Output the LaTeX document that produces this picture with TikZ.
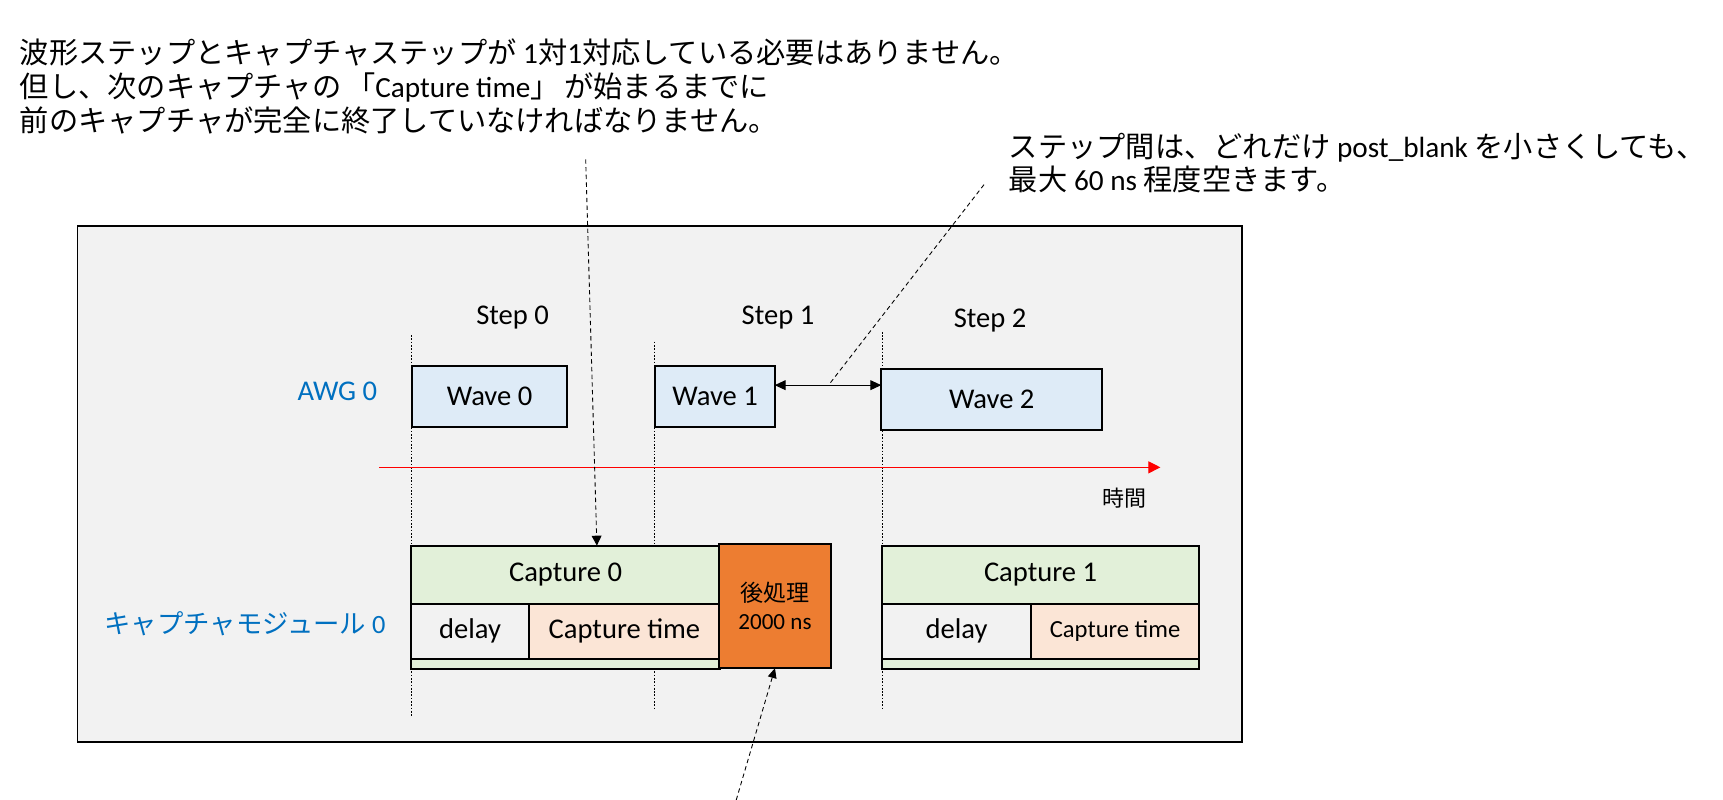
\documentclass[tikz,border=0pt]{standalone}
\usepackage{fontspec}
\setmainfont{Carlito}
\newfontfamily\jpfont{Noto Sans CJK JP}
\usetikzlibrary{arrows.meta}
\definecolor{framebg}{HTML}{F2F2F2}
\definecolor{wavefill}{HTML}{DEEBF7}
\definecolor{capgreen}{HTML}{E2F0D9}
\definecolor{peach}{HTML}{FBE5D6}
\definecolor{ppfill}{HTML}{ED7D31}
\definecolor{labelblue}{HTML}{0070C0}

\begin{document}
\begin{tikzpicture}[x=1pt,y=-1pt,
txt/.style={inner sep=0pt,font=\fontsize{26}{31}\selectfont},
note/.style={inner sep=0pt,anchor=west,align=left,font=\fontsize{26.6}{31}\selectfont},
wavebox/.style={draw,line width=1.8pt,fill=wavefill,outer sep=0pt,minimum height=55.5,anchor=north west,font=\fontsize{26}{31}\selectfont},
capbox/.style={draw,line width=1.8pt,fill=capgreen,outer sep=0pt,anchor=north west},
rowbox/.style={draw,line width=1.8pt,outer sep=0pt,minimum height=50,anchor=north west,font=\fontsize{26}{31}\selectfont},
ppbox/.style={draw,line width=1.8pt,fill=ppfill,outer sep=0pt,anchor=north west,align=center,font=\fontsize{21}{26}\selectfont},
stepline/.style={line width=.8pt,dash pattern=on 1.5pt off 1.5pt},
annot/.style={line width=.8pt,dash pattern=on 4pt off 3pt}]
\useasboundingbox(0,0)rectangle(1568,728);
\fill[white](0,0)rectangle(1568,728);
\draw[line width=1.6pt,fill=framebg](70.5,205.5)rectangle(1130.5,675);
\node[note](topnote)at(18,79){{\jpfont 波形ステップとキャプチャステップが} 1{\jpfont 対}1{\jpfont 対応している必要はありません。}\\{\jpfont 但し、次のキャプチャの\,「}Capture time{\jpfont 」\,が始まるまでに}\\{\jpfont 前のキャプチャが完全に終了していなければなりません。}};
\node[note,font=\fontsize{26.6}{30}\selectfont](rightnote)at(918,148){{\jpfont ステップ間は、どれだけ} post\_blank {\jpfont を小さくしても、}\\{\jpfont 最大} 60 ns {\jpfont 程度空きます。}};
\foreach\x/\t/\b in{374.5/305/652,595.5/311/645,803/302/646}{\draw[stepline](\x,\t)--(\x,\b);}
\foreach\i/\x/\y in{0/466.5/289,1/708/289,2/901/292}{\node[txt](s\i)at(\x,\y){Step \i};}
\foreach\i/\x/\y/\w in{0/375/333/141,1/596.5/333/108.5,2/802/336/201}{\node[wavebox,minimum width=\w](w\i)at(\x,\y){Wave \i};}
\node[txt,text=labelblue](awg)at(307,356){AWG 0};
\node[txt,text=labelblue,font=\fontsize{24}{28}\selectfont](capmod)at(223,568){{\jpfont キャプチャモジュール} 0};
\draw[red,line width=1pt,-{Triangle[length=11pt,width=11pt]}](345,425.3)--(1056,425.3);
\node[txt,font=\jpfont\fontsize{20}{24}\selectfont](tlabel)at(1023,453){時間};
\node[capbox,minimum width=281,minimum height=112](c0)at(374,496.5){};
\node[txt,minimum width=281,minimum height=53,anchor=north west](c0h)at(374,496.5){Capture 0};
\node[rowbox,fill=framebg,minimum width=107.5](d0)at(374,549.5){delay};
\node[rowbox,fill=peach,minimum width=173.5](t0)at(481.5,549.5){Capture time};
\node[ppbox,minimum width=101.5,minimum height=113](pp)at(654.5,495){{\jpfont 後処理}\\2000 ns};
\node[capbox,minimum width=288.5,minimum height=112](c1)at(802.5,496.5){};
\node[txt,minimum width=288.5,minimum height=53,anchor=north west](c1h)at(802.5,496.5){Capture 1};
\node[rowbox,fill=framebg,minimum width=136](d1)at(802.5,549.5){delay};
\node[rowbox,fill=peach,minimum width=152.5,font=\fontsize{22.4}{26}\selectfont](t1)at(938.5,549.5){Capture time};
\coordinate(gap)at(754,350.5);
\coordinate(rtop)at(895.5,168);
\coordinate(ltop)at(533,145);
\coordinate(pbot)at(670,728);
\draw[line width=1pt,{Triangle[length=10pt,width=9pt]}-{Triangle[length=10pt,width=9pt]}](w1.east|-gap)--(w2.west|-gap);
\draw[annot](rtop)--(gap);
\draw[annot,-{Triangle[length=9pt,width=9pt]}](ltop)--([xshift=28.5pt]c0h.north);
\draw[annot,-{Triangle[length=9pt,width=8pt]}](pbot)--(pp.south);
\end{tikzpicture}
\end{document}
